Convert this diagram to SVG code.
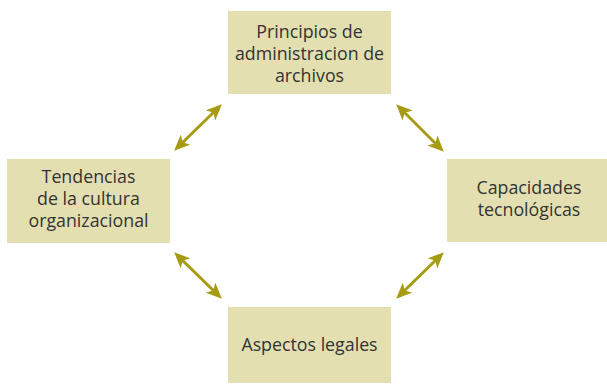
<svg xmlns="http://www.w3.org/2000/svg" width="607" height="385" viewBox="0 0 607 385">
<style>
.box{fill:#e3dfb1;}
.t{font-family:"Open Sans","Liberation Sans",sans-serif;font-size:17.8px;fill:#333333;text-anchor:middle;}
.c{stroke:#a69c12;stroke-width:3;fill:none;marker-start:url(#ah);marker-end:url(#ah);}
</style>
<defs>
<marker id="ah" viewBox="0 0 16 14" refX="12" refY="7" markerWidth="16" markerHeight="14" markerUnits="userSpaceOnUse" orient="auto-start-reverse">
<path d="M0,0 L16,7 L0,14 L4,7 z" fill="#a69c12"/>
</marker>
</defs>
<rect width="607" height="385" fill="#ffffff"/>
<g id="n1">
<rect class="box" x="228" y="11" width="163" height="83"/>
<text class="t" x="309.5" y="38">Principios de</text>
<text class="t" x="309.5" y="60">administracion de</text>
<text class="t" x="309.5" y="82">archivos</text>
</g>
<g id="n2">
<rect class="box" x="7" y="159" width="163" height="84"/>
<text class="t" x="88.5" y="183">Tendencias</text>
<text class="t" x="88.5" y="205">de la cultura</text>
<text class="t" x="88.5" y="227">organizacional</text>
</g>
<g id="n3">
<rect class="box" x="447" y="159" width="160" height="83"/>
<text class="t" x="529" y="194">Capacidades</text>
<text class="t" x="529" y="216">tecnológicas</text>
</g>
<g id="n4">
<rect class="box" x="228" y="307" width="163" height="76"/>
<text class="t" x="309.5" y="351">Aspectos legales</text>
</g>
<g id="connectors">
<line class="c" x1="177" y1="148" x2="219" y2="107"/>
<line class="c" x1="399" y1="107" x2="441" y2="149"/>
<line class="c" x1="177" y1="255" x2="219" y2="296"/>
<line class="c" x1="399" y1="296" x2="441" y2="255"/>
</g>
</svg>
